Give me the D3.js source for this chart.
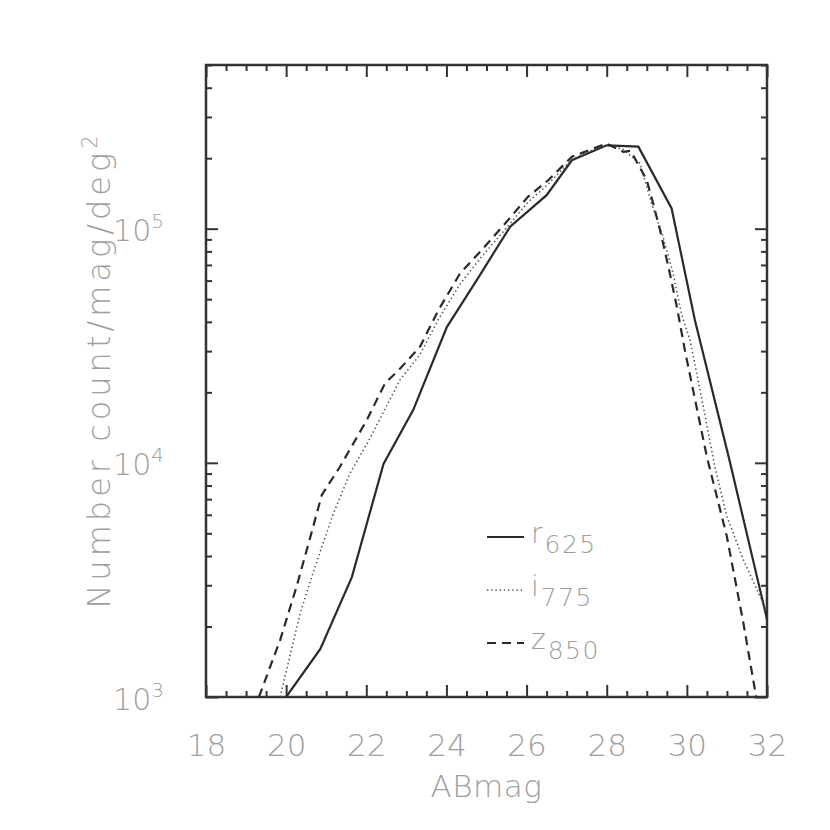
<!DOCTYPE html>
<html><head><meta charset="utf-8">
<script src="https://cdn.jsdelivr.net/npm/d3@7"></script>
<style>
html,body{margin:0;padding:0;background:#fff;}
svg text{font-family:"DejaVu Sans","Liberation Sans",sans-serif;fill:#9e9e9e;font-weight:200;}
</style></head>
<body><svg id="c" width="830" height="830"></svg>
<script>
// ---- data ----
const xMajorTicks = [18, 20, 22, 24, 26, 28, 30, 32];
const yMajorTicks = [1e3, 1e4, 1e5];
const yTickExponents = ["3", "4", "5"];

const magR = [20.0, 20.85, 21.64, 22.43, 23.17, 24.01, 24.8, 25.59, 26.5, 27.13, 28.0, 28.79, 29.62, 30.2, 31.05, 32.0];
const countR = [1000, 1600, 3250, 9900, 16800, 38000, 62000, 102000, 139000, 196000, 227000, 224000, 122000, 40700, 10500, 2150];

const magI = [19.85, 20.35, 20.72, 21.18, 21.59, 22.09, 22.84, 23.34, 23.8, 24.34, 24.88, 25.46, 26.04, 26.54, 27.13, 27.67, 28.0, 28.41, 28.83, 29.12, 29.41, 29.66, 29.87, 30.08, 30.41, 30.7, 31.0, 31.41, 31.83, 32.0];
const countI = [1000, 2280, 3600, 6080, 9000, 12700, 22600, 29000, 41000, 58000, 76000, 99000, 130000, 155000, 198000, 218000, 228000, 218000, 190000, 128000, 92000, 64000, 43000, 33400, 17400, 9600, 5900, 3850, 2680, 2280];

const magZ = [19.32, 19.85, 20.26, 20.64, 20.89, 21.34, 22.01, 22.47, 22.8, 23.34, 23.8, 24.34, 24.88, 25.46, 26.04, 26.54, 27.13, 27.67, 28.0, 28.41, 28.6, 29.0, 29.16, 29.33, 29.54, 29.75, 29.95, 30.5, 31.0, 31.41, 31.73];
const countZ = [1000, 1750, 2960, 5080, 7300, 9600, 15200, 21900, 24800, 31300, 44900, 64400, 81000, 105000, 137000, 161000, 203000, 220000, 231000, 213000, 215000, 161000, 128000, 98700, 68700, 46400, 30300, 10600, 4830, 2070, 1000];

const seriesNames = ["r", "i", "z"];
const seriesSubs = ["625", "775", "850"];

// ---- layout ----
const L = 206, R = 767, T = 65, B = 697;
const svg = d3.select("#c");
const x = d3.scaleLinear().domain([18, 32]).range([L, R]);
const y = d3.scaleLog().domain([1e3, 5e5]).range([B, T]);

const axisColor = "#333";
const minorX = d3.range(18, 32.01, 0.5).filter(v => Math.abs(v % 2) > 1e-6);
const minorY = [];
[1e3, 1e4, 1e5].forEach(d => { for (let k = 2; k <= 9; k++) if (d * k <= 5e5) minorY.push(d * k); });

function styleAxis(g) {
  g.select(".domain").remove();
  g.selectAll(".tick line").attr("stroke", axisColor).attr("stroke-width", 2);
}

// bottom major with labels
svg.append("g").attr("transform", `translate(0,${B})`)
  .call(d3.axisBottom(x).tickValues(xMajorTicks).tickSize(-12).tickPadding(37).tickFormat(d3.format("d")))
  .call(styleAxis)
  .call(g => g.selectAll("text").attr("font-size", 31).attr("fill", null).attr("font-family", null));
svg.append("g").attr("transform", `translate(0,${B})`)
  .call(d3.axisBottom(x).tickValues(minorX).tickSize(-6).tickFormat(""))
  .call(styleAxis);
// top
svg.append("g").attr("transform", `translate(0,${T})`)
  .call(d3.axisTop(x).tickValues(xMajorTicks).tickSize(-12).tickFormat(""))
  .call(styleAxis);
svg.append("g").attr("transform", `translate(0,${T})`)
  .call(d3.axisTop(x).tickValues(minorX).tickSize(-6).tickFormat(""))
  .call(styleAxis);
// left
const yl = svg.append("g").attr("transform", `translate(${L},0)`)
  .call(d3.axisLeft(y).tickValues(yMajorTicks).tickSize(-12).tickFormat(""))
  .call(styleAxis);
yl.selectAll(".tick").each(function(d, i) {
  const t = d3.select(this).append("text").attr("x", -42).attr("y", 12)
    .attr("text-anchor", "end").attr("font-size", 30);
  t.append("tspan").text("10");
  t.append("tspan").attr("dy", -13).attr("font-size", 20).text(yTickExponents[i]);
});
svg.append("g").attr("transform", `translate(${L},0)`)
  .call(d3.axisLeft(y).tickValues(minorY).tickSize(-6).tickFormat(""))
  .call(styleAxis);
// right
svg.append("g").attr("transform", `translate(${R},0)`)
  .call(d3.axisRight(y).tickValues(yMajorTicks).tickSize(-12).tickFormat(""))
  .call(styleAxis);
svg.append("g").attr("transform", `translate(${R},0)`)
  .call(d3.axisRight(y).tickValues(minorY).tickSize(-6).tickFormat(""))
  .call(styleAxis);

// frame
svg.append("rect").attr("x", L).attr("y", T).attr("width", R - L).attr("height", B - T)
  .attr("fill", "none").attr("stroke", axisColor).attr("stroke-width", 2.5);

// clip
svg.append("clipPath").attr("id", "clip").append("rect")
  .attr("x", L).attr("y", T).attr("width", R - L).attr("height", B - T);

const line = d3.line().x(d => x(d[0])).y(d => y(d[1]));
const styles = [
  {dash: null, w: 2.2, c: "#2a2a2a"},
  {dash: "1.4,2.8", w: 1.6, c: "#555"},
  {dash: "9,6", w: 2.2, c: "#2a2a2a"}
];
const series = [
  d3.zip(magR, countR),
  d3.zip(magI, countI),
  d3.zip(magZ, countZ)
];
const gPlot = svg.append("g").attr("clip-path", "url(#clip)");
series.forEach((s, i) => {
  gPlot.append("path").datum(s).attr("d", line).attr("fill", "none")
    .attr("stroke", styles[i].c).attr("stroke-width", styles[i].w)
    .attr("stroke-dasharray", styles[i].dash);
});

// legend
const legY = [537, 590, 643];
seriesNames.forEach((n, i) => {
  svg.append("line").attr("x1", 487).attr("x2", 524).attr("y1", legY[i]).attr("y2", legY[i])
    .attr("stroke", styles[i].c).attr("stroke-width", styles[i].w)
    .attr("stroke-dasharray", styles[i].dash);
  const t = svg.append("text").attr("x", 531).attr("y", legY[i] + 6).attr("font-size", 28);
  t.append("tspan").text(n);
  t.append("tspan").attr("dx", 2).attr("dy", 10).attr("font-size", 25).attr("letter-spacing", 1.5).text(seriesSubs[i]);
});

// axis titles
svg.append("text").attr("x", (L + R) / 2).attr("y", 797).attr("text-anchor", "middle")
  .attr("font-size", 31).attr("letter-spacing", 0.5).text("ABmag");
const yt = svg.append("text").attr("transform", `translate(110,370) rotate(-90)`)
  .attr("text-anchor", "middle").attr("font-size", 32).attr("letter-spacing", 4);
yt.append("tspan").text("Number count/mag/deg");
yt.append("tspan").attr("dy", -13).attr("font-size", 21).text("2");
</script></body></html>
